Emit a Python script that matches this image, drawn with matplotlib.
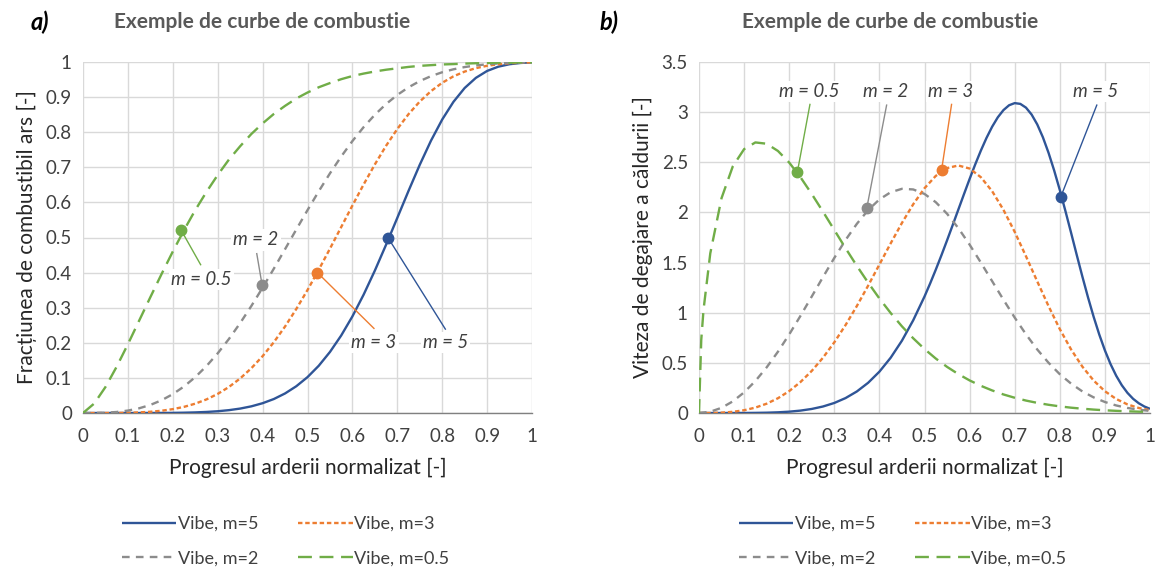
import matplotlib
matplotlib.use("Agg")
import matplotlib.pyplot as plt

plt.rcParams['font.family'] = ['Lato', 'DejaVu Sans']
plt.rcParams['lines.scale_dashes'] = False

# ---------------- data ----------------
progress = [0, 0.025, 0.05, 0.075, 0.1, 0.125, 0.15, 0.175, 0.2, 0.225, 0.25, 0.275,
            0.3, 0.325, 0.35, 0.375, 0.4, 0.425, 0.45, 0.475, 0.5, 0.525, 0.55, 0.575,
            0.6, 0.625, 0.65, 0.675, 0.7, 0.725, 0.75, 0.775, 0.8, 0.825, 0.85, 0.875,
            0.9, 0.925, 0.95, 0.975, 1.0]
progress_m05 = [0, 0.005, 0.01] + progress[1:]
progress_m5 = progress[:20] + [0.5, 0.5125, 0.525, 0.5375, 0.55, 0.5625, 0.575, 0.5875, 0.6,
                               0.6125, 0.625, 0.6375, 0.65, 0.6625, 0.675, 0.6875, 0.7,
                               0.7125, 0.725, 0.7375, 0.75, 0.7625, 0.775, 0.7875, 0.8,
                               0.8125, 0.825, 0.8375, 0.85, 0.8625, 0.875, 0.8875, 0.9,
                               0.9125, 0.925, 0.9375, 0.95, 0.9625, 0.975, 0.9875, 1.0]

burned_m5 = [0, 0, 0, 0, 0, 0, 0.0001, 0.0002, 0.0004, 0.0009, 0.0017, 0.003, 0.005, 0.0081,
             0.0126, 0.019, 0.0279, 0.0398, 0.0557, 0.0762, 0.1022, 0.1345, 0.1739, 0.2207,
             0.2752, 0.3372, 0.4057, 0.4794, 0.5559, 0.6328, 0.7071, 0.7758, 0.8361, 0.8864,
             0.9259, 0.9548, 0.9745, 0.9867, 0.9937, 0.9973, 0.999]
burned_m3 = [0, 0, 0, 0.0002, 0.0007, 0.0017, 0.0035, 0.0064, 0.011, 0.0175, 0.0266, 0.0387,
             0.0544, 0.0741, 0.0984, 0.1276, 0.1619, 0.2016, 0.2464, 0.2963, 0.3503, 0.408,
             0.4682, 0.5296, 0.5911, 0.6511, 0.7082, 0.7613, 0.8092, 0.8514, 0.8873, 0.917,
             0.9408, 0.9591, 0.9727, 0.9825, 0.9892, 0.9936, 0.9964, 0.998, 0.999]
burned_m2 = [0, 0.0001, 0.0009, 0.0029, 0.0069, 0.0134, 0.023, 0.0363, 0.0537, 0.0756, 0.1022,
             0.1337, 0.17, 0.2109, 0.2561, 0.305, 0.357, 0.4112, 0.4667, 0.5227, 0.5779, 0.6316,
             0.6827, 0.7306, 0.7747, 0.8145, 0.8497, 0.8802, 0.9062, 0.9279, 0.9456, 0.9597,
             0.9708, 0.9792, 0.9856, 0.9902, 0.9935, 0.9958, 0.9973, 0.9983, 0.999]
burned_m05 = [0, 0.027, 0.074, 0.132, 0.196, 0.263, 0.330, 0.396, 0.460, 0.521, 0.578, 0.630,
              0.678, 0.722, 0.760, 0.795, 0.825, 0.852, 0.875, 0.896, 0.913, 0.928, 0.940,
              0.951, 0.960, 0.967, 0.973, 0.978, 0.982, 0.986, 0.989, 0.991, 0.993, 0.994,
              0.9955, 0.9965, 0.997, 0.998, 0.998, 0.999, 0.999]

rate_m5 = [0, 0, 0, 0, 0.0004, 0.0013, 0.0031, 0.0068, 0.0133, 0.0239, 0.0404, 0.0649, 0.1001,
           0.1489, 0.2147, 0.3012, 0.4121, 0.5512, 0.7214, 0.9248,
           1.1615, 1.2917, 1.4291, 1.5726, 1.7213, 1.8737, 2.0279, 2.1818, 2.3334, 2.4792,
           2.6169, 2.7432, 2.8548, 2.9483, 3.0201, 3.0686, 3.0901, 3.0823, 3.045, 2.976,
           2.8776, 2.7495, 2.595, 2.4184, 2.2235, 2.0137, 1.7974, 1.5771, 1.3612, 1.1539,
           0.9598, 0.7825, 0.6246, 0.4878, 0.372, 0.2769, 0.2009, 0.1417, 0.0974, 0.0647,
           0.0417]
rate_m3 = [0, 0.0004, 0.0035, 0.0117, 0.0276, 0.0538, 0.0928, 0.147, 0.2184, 0.3089, 0.4198,
           0.5518, 0.7047, 0.8773, 1.0669, 1.2697, 1.4804, 1.6916, 1.8953, 2.0815, 2.2415,
           2.3643, 2.442, 2.4682, 2.4377, 2.351, 2.2118, 2.0262, 1.8063, 1.5629, 1.3122,
           1.0663, 0.8366, 0.6339, 0.4627, 0.3239, 0.2173, 0.1398, 0.0857, 0.0501, 0.0278]
rate_m2 = [0, 0.0129, 0.0517, 0.1161, 0.2056, 0.3191, 0.455, 0.6109, 0.7835, 0.9687, 1.1615,
           1.3561, 1.5463, 1.7253, 1.8864, 2.0231, 2.1296, 2.2015, 2.2355, 2.2292, 2.1844,
           2.1019, 1.9869, 1.8437, 1.6789, 1.4999, 1.3145, 1.1299, 0.9514, 0.7845, 0.6334,
           0.5011, 0.3868, 0.2931, 0.2154, 0.1558, 0.1097, 0.0753, 0.0504, 0.0329, 0.0209]
rate_m05 = [0, 0.73, 1.028, 1.592, 2.143, 2.46, 2.631, 2.698, 2.685, 2.613, 2.497, 2.351,
            2.184, 2.007, 1.825, 1.643, 1.467, 1.3, 1.142, 0.997, 0.864, 0.745, 0.638, 0.543,
            0.46, 0.388, 0.325, 0.271, 0.225, 0.185, 0.152, 0.124, 0.101, 0.082, 0.066, 0.053,
            0.043, 0.034, 0.027, 0.0215, 0.017, 0.0133, 0.0104]

series_labels = ["Vibe, m=5", "Vibe, m=3", "Vibe, m=2", "Vibe, m=0.5"]
annot_labels = ["m = 5", "m = 3", "m = 2", "m = 0.5"]

# highlighted points (a) and (b), order: m=5, m=3, m=2, m=0.5
marker_a_x = [0.68, 0.522, 0.399, 0.219]
marker_a_y = [0.498, 0.40, 0.364, 0.52]
marker_b_x = [0.802, 0.538, 0.372, 0.218]
marker_b_y = [2.153, 2.427, 2.043, 2.40]

# ---------------- styles ----------------
colors = ["#2F5597", "#ED7D31", "#8C8C8C", "#70AD47"]
dashes = [None, (0, (3.2, 2.0)), (0, (5.5, 4.5)), (0, (10, 5.5))]
widths = [1.7, 1.7, 1.7, 1.7]
grid_c = "#D9D9D9"
text_c = "#404040"

# label text positions / leader line ends (data coords)
lab_a_pos = [(0.807, 0.201), (0.648, 0.201), (0.385, 0.493), (0.264, 0.381)]
lead_a_end = [(0.807, 0.239), (0.648, 0.241), (0.387, 0.454), (0.262, 0.4225)]
lab_b_pos = [(0.880, 3.203), (0.559, 3.203), (0.414, 3.203), (0.245, 3.203)]
lead_b_end = [(0.882, 3.07), (0.560, 3.077), (0.416, 3.07), (0.246, 3.077)]

W, H = 1156, 569
fig = plt.figure(figsize=(W / 100, H / 100), dpi=100)
axA = fig.add_axes([83 / W, 1 - 413 / H, 449 / W, 351 / H])
axB = fig.add_axes([699 / W, 1 - 413 / H, 451 / W, 351 / H])


def style_axes(ax, ymax, ystep):
    ax.set_xlim(0, 1)
    ax.set_ylim(0, ymax)
    ax.set_xticks([i / 10 for i in range(11)])
    ax.set_xticklabels(["0"] + [f"{i/10:.1f}" for i in range(1, 10)] + ["1"])
    n = int(round(ymax / ystep))
    yt = [i * ystep for i in range(n + 1)]
    ax.set_yticks(yt)
    ax.set_yticklabels([("%g" % v) for v in yt])
    ax.grid(True, color=grid_c, lw=1.0)
    ax.set_axisbelow(True)
    for s in ["top", "right", "left"]:
        ax.spines[s].set_visible(False)
    ax.spines["bottom"].set_color("#808080")
    ax.spines["bottom"].set_linewidth(1.0)
    ax.spines["bottom"].set_zorder(2.5)
    ax.tick_params(length=0, labelsize=13.5, labelcolor=text_c, pad=8)
    ax.tick_params(axis='x', pad=11)
    ax.set_xlabel("Progresul arderii normalizat [-]", fontsize=15, color="#262626", labelpad=9)


style_axes(axA, 1.0, 0.1)
style_axes(axB, 3.5, 0.5)
axA.set_ylabel("Fracțiunea de combustibil ars [-]", fontsize=15, color="#262626", labelpad=6)
axB.set_ylabel("Viteza de degajare a căldurii [-]", fontsize=15, color="#262626", labelpad=6)

data_a = [(progress, burned_m5), (progress, burned_m3), (progress, burned_m2), (progress, burned_m05)]
data_b = [(progress_m5, rate_m5), (progress, rate_m3), (progress, rate_m2), (progress_m05, rate_m05)]

for ax, data in ((axA, data_a), (axB, data_b)):
    for i, (xs, ys) in enumerate(data):
        ln, = ax.plot(xs, ys, color=colors[i], lw=widths[i], label=series_labels[i],
                      solid_capstyle='butt', dash_capstyle='butt', solid_joinstyle='round',
                      zorder=3)
        if dashes[i] is not None:
            ln.set_linestyle(dashes[i])

for ax, mx, my, lpos, lend in ((axA, marker_a_x, marker_a_y, lab_a_pos, lead_a_end),
                               (axB, marker_b_x, marker_b_y, lab_b_pos, lead_b_end)):
    for i in range(4):
        ax.plot([mx[i], lend[i][0]], [my[i], lend[i][1]], color=colors[i], lw=1.0, zorder=4)
        ax.plot([mx[i]], [my[i]], 'o', color=colors[i], ms=7.5, zorder=5)
        ax.text(lpos[i][0], lpos[i][1], annot_labels[i], fontsize=13.5, style='italic',
                color=text_c, ha='center', va='center', zorder=6,
                bbox=dict(facecolor='white', edgecolor='none', pad=1.5))

for ax in (axA, axB):
    h, l = ax.get_legend_handles_labels()
    order = [0, 2, 1, 3]
    ax.legend([h[k] for k in order], [l[k] for k in order], ncol=2, loc='center',
              bbox_to_anchor=(0.452, -0.365), frameon=False, fontsize=13,
              handlelength=3.0, handletextpad=0.1, columnspacing=2.2,
              labelspacing=1.0, labelcolor=text_c)

fig.text(40 / W, 1 - 22 / H, "a)", fontsize=17, fontweight='bold', style='italic',
         ha='center', va='center', color='black')
fig.text(609 / W, 1 - 22 / H, "b)", fontsize=17, fontweight='bold', style='italic',
         ha='center', va='center', color='black')
fig.text(262 / W, 1 - 22 / H, "Exemple de curbe de combustie", fontsize=15, fontweight='bold',
         ha='center', va='center', color='#595959')
fig.text(890 / W, 1 - 22 / H, "Exemple de curbe de combustie", fontsize=15, fontweight='bold',
         ha='center', va='center', color='#595959')

fig.savefig("out.png", dpi=100, facecolor='white')
